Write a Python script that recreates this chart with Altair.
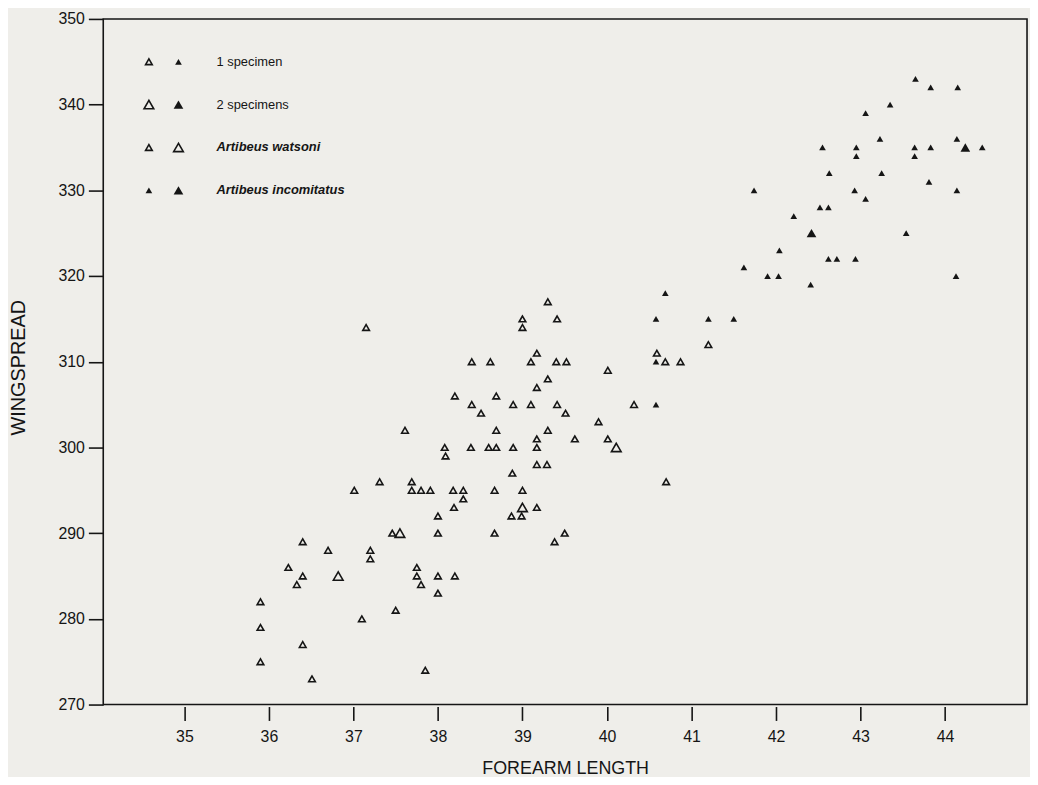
import altair as alt
import pandas as pd

# Artibeus watsoni (open triangles)
w_x = [36.40, 36.70, 37.20, 37.20, 36.23, 36.40, 36.82, 36.33, 35.90, 35.90, 37.10, 36.40, 35.90, 36.51,
       39.17, 38.40, 38.62, 39.10, 39.40, 39.52, 40.01, 39.30, 39.17, 38.20, 38.69, 38.40, 38.89, 39.10,
       39.41, 40.32, 38.51, 39.51, 39.90, 37.61, 38.69, 39.30, 39.17, 39.62, 40.01, 38.08, 38.39, 38.60,
       38.69, 38.89, 39.17, 40.11, 38.09, 39.17, 39.29, 38.88, 37.31, 37.69, 37.01, 37.69, 37.80, 37.91,
       38.18, 38.30, 38.67, 39.00, 38.30, 39.00, 39.17, 38.19, 38.00, 38.87, 38.99, 37.46, 37.55, 38.00,
       38.67, 39.50, 39.38,
       39.30, 39.00, 39.41, 39.00, 40.59, 40.69, 40.87,
       37.15, 37.85, 38.00, 38.00, 38.20, 37.75, 37.75, 37.50, 37.80, 41.20, 40.70]
w_y = [289, 288, 288, 287, 286, 285, 285, 284, 282, 279, 280, 277, 275, 273,
       311, 310, 310, 310, 310, 310, 309, 308, 307, 306, 306, 305, 305, 305,
       305, 305, 304, 304, 303, 302, 302, 302, 301, 301, 301, 300, 300, 300,
       300, 300, 300, 300, 299, 298, 298, 297, 296, 296, 295, 295, 295, 295,
       295, 295, 295, 295, 294, 293, 293, 293, 292, 292, 292, 290, 290, 290,
       290, 290, 289,
       317, 315, 315, 314, 311, 310, 310,
       314, 274, 283, 285, 285, 286, 285, 281, 284, 312, 296]
w_n = [1, 1, 1, 1, 1, 1, 2, 1, 1, 1, 1, 1, 1, 1,
       1, 1, 1, 1, 1, 1, 1, 1, 1, 1, 1, 1, 1, 1,
       1, 1, 1, 1, 1, 1, 1, 1, 1, 1, 1, 1, 1, 1,
       1, 1, 1, 2, 1, 1, 1, 1, 1, 1, 1, 1, 1, 1,
       1, 1, 1, 1, 1, 2, 1, 1, 1, 1, 1, 1, 2, 1,
       1, 1, 1,
       1, 1, 1, 1, 1, 1, 1,
       1, 1, 1, 1, 1, 1, 1, 1, 1, 1, 1]

# Artibeus incomitatus (filled triangles)
i_x = [40.69, 40.58, 40.58, 40.58,
       43.65, 43.83, 44.15, 43.35, 43.06, 43.23, 44.14, 42.55, 42.95, 43.64, 43.83, 44.24, 44.44,
       42.95, 43.64, 42.63, 43.25, 43.81, 41.74, 42.93, 44.14, 43.06, 42.52, 42.62, 42.21, 42.42,
       43.54, 42.04, 42.62, 42.72, 42.94, 41.62, 41.90, 42.03, 42.41, 44.13,
       41.20, 41.50]
i_y = [318, 315, 310, 305,
       343, 342, 342, 340, 339, 336, 336, 335, 335, 335, 335, 335, 335,
       334, 334, 332, 332, 331, 330, 330, 330, 329, 328, 328, 327, 325,
       325, 323, 322, 322, 322, 321, 320, 320, 319, 320,
       315, 315]
i_n = [1, 1, 1, 1,
       1, 1, 1, 1, 1, 1, 1, 1, 1, 1, 1, 2, 1,
       1, 1, 1, 1, 1, 1, 1, 1, 1, 1, 1, 1, 2,
       1, 1, 1, 1, 1, 1, 1, 1, 1, 1,
       1, 1]

# legend (in data units)
leg_sym_x = [34.58, 34.93, 34.58, 34.93, 34.58, 34.93, 34.58, 34.93]
leg_sym_y = [345, 345, 340, 340, 335, 335, 330, 330]
leg_sym_n = [1, 1, 2, 2, 1, 2, 1, 2]
leg_sym_fill = ["open", "filled", "open", "filled", "open", "open", "filled", "filled"]
leg_txt = ["1 specimen", "2 specimens", "Artibeus watsoni", "Artibeus incomitatus"]
leg_txt_y = [345, 340, 335, 330]
leg_txt_style = ["normal", "normal", "italic", "italic"]

x_ticks = [35, 36, 37, 38, 39, 40, 41, 42, 43, 44]
y_ticks = [270, 280, 290, 300, 310, 320, 330, 340, 350]

wat = pd.DataFrame({"x": w_x, "y": w_y, "n": w_n})
inc = pd.DataFrame({"x": i_x, "y": i_y, "n": i_n})
leg = pd.DataFrame({"x": leg_sym_x, "y": leg_sym_y, "n": leg_sym_n, "f": leg_sym_fill})
legt = pd.DataFrame({"t": leg_txt, "y": leg_txt_y, "s": leg_txt_style, "x": [35.38] * 4})

INK = "#151515"
FONT = "Liberation Sans"

xs = alt.Scale(domain=[34.04, 44.97], nice=False, zero=False)
ys = alt.Scale(domain=[270, 350], nice=False, zero=False)
ss = alt.Scale(domain=[1, 2], range=[45, 95])

xax = alt.Axis(values=x_ticks, format="d", title="FOREARM LENGTH", domain=False, grid=False,
               tickSize=14, tickWidth=1.6, tickColor=INK, offset=2, labelPadding=8,
               labelFontSize=16, labelFont=FONT, labelColor=INK, titleFont=FONT,
               titleFontSize=18, titleFontWeight="normal", titleColor=INK, titleY=67,
               titleBaseline="alphabetic")
yax = alt.Axis(values=y_ticks, format="d", title="WINGSPREAD", domain=False, grid=False,
               tickSize=15, tickWidth=1.6, tickColor=INK, labelPadding=4, labelFontSize=16,
               labelFont=FONT, labelColor=INK, titleFont=FONT, titleFontSize=20,
               titleFontWeight="normal", titleColor=INK, titleX=-79, titleY=351,
               titleBaseline="alphabetic", titleAngle=-90)

open_pts = alt.Chart(wat).mark_point(shape="triangle-up", filled=False, color=INK,
                                     strokeWidth=1.6, opacity=1).encode(
    x=alt.X("x:Q", scale=xs, axis=xax),
    y=alt.Y("y:Q", scale=ys, axis=yax),
    size=alt.Size("n:Q", scale=ss, legend=None),
)
fill_pts = alt.Chart(inc).mark_point(shape="triangle-up", filled=True, color=INK,
                                     opacity=1).encode(
    x=alt.X("x:Q", scale=xs),
    y=alt.Y("y:Q", scale=ys),
    size=alt.Size("n:Q", scale=ss, legend=None),
)
leg_open = alt.Chart(leg).transform_filter(alt.datum.f == "open").mark_point(
    shape="triangle-up", filled=False, color=INK, strokeWidth=1.6, opacity=1).encode(
    x=alt.X("x:Q", scale=xs), y=alt.Y("y:Q", scale=ys),
    size=alt.Size("n:Q", scale=ss, legend=None))
leg_fill = alt.Chart(leg).transform_filter(alt.datum.f == "filled").mark_point(
    shape="triangle-up", filled=True, color=INK, opacity=1).encode(
    x=alt.X("x:Q", scale=xs), y=alt.Y("y:Q", scale=ys),
    size=alt.Size("n:Q", scale=ss, legend=None))
leg_plain = alt.Chart(legt).transform_filter(alt.datum.s == "normal").mark_text(
    align="left", baseline="middle", font=FONT, fontSize=13, color=INK).encode(
    x=alt.X("x:Q", scale=xs), y=alt.Y("y:Q", scale=ys), text="t:N")
leg_ital = alt.Chart(legt).transform_filter(alt.datum.s == "italic").mark_text(
    align="left", baseline="middle", font=FONT, fontSize=13, fontStyle="italic",
    fontWeight="bold", color=INK).encode(
    x=alt.X("x:Q", scale=xs), y=alt.Y("y:Q", scale=ys), text="t:N")

chart = alt.layer(open_pts, fill_pts, leg_open, leg_fill, leg_plain, leg_ital).properties(
    width=931, height=691,
    autosize=alt.AutoSizeParams(type="none"),
    padding={"left": 96, "top": 8, "right": 3, "bottom": 70},
    background="#efeeea",
).configure_view(stroke=INK, strokeWidth=1.6)

chart.save("out.html", embed_options={"renderer": "svg", "actions": False})
